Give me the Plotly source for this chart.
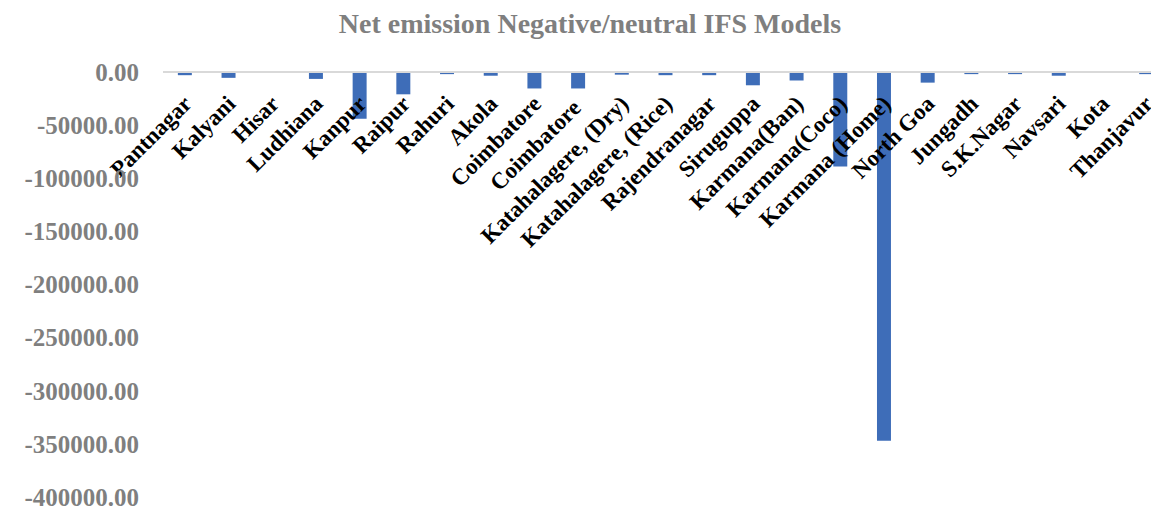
import plotly.graph_objects as go

categories = ["Pantnagar", "Kalyani", "Hisar", "Ludhiana", "Kanpur", "Raipur", "Rahuri",
              "Akola", "Coimbatore", "Coimbatore ", "Katahalagere, (Dry)", "Katahalagere, (Rice)",
              "Rajendranagar", "Siruguppa", "Karmana(Ban)", "Karmana(Coco)", "Karmana (Home)",
              "North Goa", "Jungadh", "S.K.Nagar", "Navsari", "Kota", "Thanjavur"]
values = [-3000, -5500, 0, -6500, -44000, -21000, -2000,
          -3500, -15500, -15500, -2500, -3000,
          -3000, -12500, -8000, -89000, -347000,
          -10000, -2000, -2000, -3500, 0, -2000]
y_ticks = [0, -50000, -100000, -150000, -200000, -250000, -300000, -350000, -400000]
y_tick_text = ["%.2f" % v for v in y_ticks]
title_text = "Net emission Negative/neutral IFS Models"

fig = go.Figure(go.Bar(x=categories, y=values, marker_color="#3E6DB8",
                       marker_line_width=0))

# the page body has an 8px margin, so the figure is shifted by 8px
fig.update_layout(
    width=1160, height=504,
    margin=dict(l=155, r=0, t=64, b=15, autoexpand=False),
    paper_bgcolor="white", plot_bgcolor="white",
    bargap=0.68,
    showlegend=False,
    title=dict(text="<b>%s</b>" % title_text, x=582 / 1160, xanchor="center",
               y=0.969, yanchor="middle", xref="container", yref="container",
               font=dict(family="Liberation Serif", size=28, color="#7F7F7F")),
    xaxis=dict(anchor="free", position=1, side="bottom", tickangle=-45,
               showline=True, linecolor="#D9D9D9", linewidth=2, automargin=False,
               showgrid=False, ticks="", zeroline=False, ticklabelstandoff=8,
               tickfont=dict(family="Liberation Serif", size=23, color="black", weight="bold")),
    yaxis=dict(range=[-400000, 0], tickvals=y_ticks, ticktext=y_tick_text,
               showgrid=False, zeroline=False, showline=False, ticks="", automargin=False,
               ticklabelstandoff=23,
               tickfont=dict(family="Liberation Serif", size=25, color="#7F7F7F", weight="bold")),
)

fig.write_html("out.html")
